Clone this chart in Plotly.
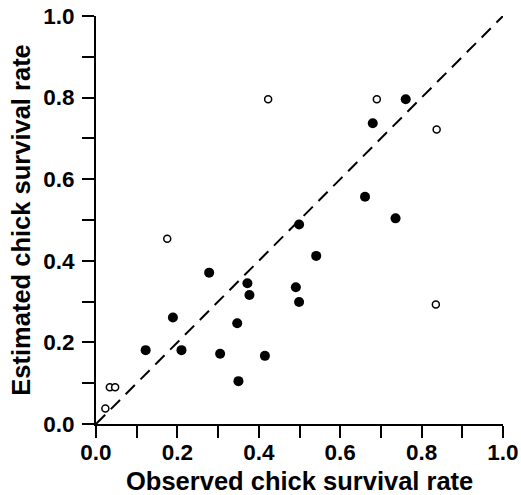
import plotly.graph_objects as go

# Populations used to fit the model (filled) and held-out populations (open)
fit_observed = [0.122, 0.189, 0.210, 0.278, 0.305, 0.347, 0.350, 0.372, 0.377,
                0.415, 0.491, 0.499, 0.541, 0.499, 0.661, 0.736, 0.680, 0.761]
fit_estimated = [0.181, 0.261, 0.181, 0.371, 0.172, 0.247, 0.105, 0.345, 0.316,
                 0.167, 0.335, 0.299, 0.412, 0.489, 0.557, 0.504, 0.737, 0.796]

test_observed = [0.423, 0.690, 0.837, 0.835, 0.175, 0.034, 0.047, 0.023]
test_estimated = [0.796, 0.796, 0.722, 0.293, 0.454, 0.090, 0.090, 0.038]

# 1:1 reference line
line_x = [0.0, 1.0]
line_y = [0.0, 1.0]

tick_vals = [0.0, 0.1, 0.2, 0.3, 0.4, 0.5, 0.6, 0.7, 0.8, 0.9, 1.0]
tick_text = ["0.0", "", "0.2", "", "0.4", "", "0.6", "", "0.8", "", "1.0"]

x_title = "Observed chick survival rate"
y_title = "Estimated chick survival rate"

FONT = "Liberation Sans, Arial, Helvetica, sans-serif"

fig = go.Figure()

fig.add_trace(go.Scatter(
    x=line_x, y=line_y, mode="lines",
    line=dict(color="black", width=2, dash="13px,8px"),
    hoverinfo="skip",
))

fig.add_trace(go.Scatter(
    x=fit_observed, y=fit_estimated, mode="markers",
    marker=dict(size=10, color="black", line=dict(width=0)),
))

fig.add_trace(go.Scatter(
    x=test_observed, y=test_estimated, mode="markers",
    marker=dict(size=7, color="white", line=dict(color="black", width=1.5)),
))

axis_common = dict(
    range=[0, 1],
    automargin=False,
    tickmode="array",
    tickvals=tick_vals,
    ticktext=tick_text,
    ticks="outside",
    ticklen=12,
    tickwidth=2,
    tickcolor="black",
    showline=True,
    linecolor="black",
    linewidth=2,
    showgrid=False,
    zeroline=False,
    tickfont=dict(family=FONT, size=22.5, color="black", weight="bold"),
)

fig.update_xaxes(**axis_common, ticklabelstandoff=-5)
fig.update_yaxes(**axis_common, ticklabelstandoff=3)

title_font = dict(family=FONT, size=25.5, color="black", weight="bold")
fig.add_annotation(
    text=x_title, xref="paper", yref="paper",
    x=0.5, y=-0.14, xanchor="center", yanchor="middle",
    showarrow=False, font=title_font,
)
fig.add_annotation(
    text=y_title, xref="paper", yref="paper",
    x=-0.185, y=0.5, xanchor="center", yanchor="middle", textangle=-90,
    showarrow=False, font=title_font,
)

fig.update_layout(
    width=521, height=495,
    margin=dict(l=96, r=18, t=16, b=71),
    paper_bgcolor="white",
    plot_bgcolor="white",
    showlegend=False,
)

fig.write_html("out.html")
